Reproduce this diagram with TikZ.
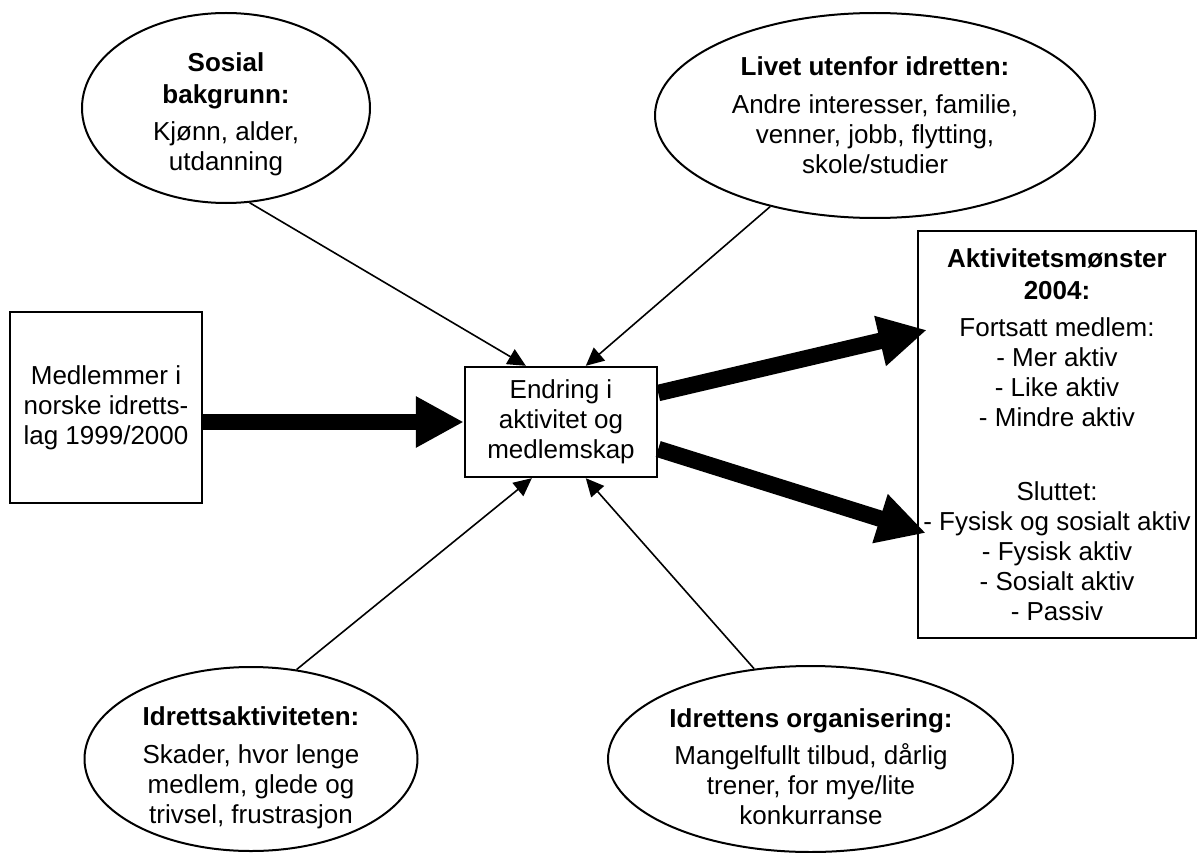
\documentclass[tikz,border=0pt]{standalone}
\usepackage{fontspec}
\setmainfont{Liberation Sans}
\usetikzlibrary{shapes.geometric,arrows.meta,calc}
\begin{document}
\begin{tikzpicture}[x=1pt,y=-1pt,
  font=\fontsize{26}{30}\selectfont,
  oval/.style={ellipse, draw, line width=2pt, inner sep=0pt},
  boxnode/.style={draw, line width=2.4pt, inner sep=0pt, align=center},
  txt/.style={align=center, inner sep=0pt},
  conn/.style={line width=1.6pt, -{Triangle[length=18pt,width=17pt]}},
  flow/.style={line width=16.5pt, -{Triangle[length=48pt,width=48pt]}}
]
\useasboundingbox (0,0) rectangle (1198,853);

% ellipses
\node[oval, minimum width=288pt, minimum height=190pt] (e1) at (226,108) {};
\node[txt] (e1t) at (226,114.5) {\textbf{Sosial}\\[2pt]\textbf{bakgrunn:}\\[7pt]Kjønn, alder,\\utdanning};

\node[oval, minimum width=440pt, minimum height=205pt] (e2) at (875,115.5) {};
\node[txt] (e2t) at (875,115.5) {\textbf{Livet utenfor idretten:}\\[8pt]Andre interesser, familie,\\venner, jobb, flytting,\\skole/studier};

\node[oval, minimum width=333pt, minimum height=184pt] (e3) at (251,759) {};
\node[txt] (e3t) at (251,767.5) {\textbf{Idrettsaktiviteten:}\\[8pt]Skader, hvor lenge\\medlem, glede og\\trivsel, frustrasjon};

\node[oval, minimum width=405pt, minimum height=186pt] (e4) at (810.5,759) {};
\node[txt] (e4t) at (811,767) {\textbf{Idrettens organisering:}\\[7pt]Mangelfullt tilbud, dårlig\\trener, for mye/lite\\konkurranse};

% boxes
\node[boxnode, minimum width=192pt, minimum height=191pt] (lb) at (106,407.5) {Medlemmer i\\norske idretts-\\lag 1999/2000};
\node[boxnode, minimum width=192pt, minimum height=110pt] (cb) at (561,422) {Endring i\\aktivitet og\\medlemskap};
\node[boxnode, minimum width=278pt, minimum height=407pt] (rb) at (1057,434.5) {\textbf{Aktivitetsmønster}\\[2pt]\textbf{2004:}\\[7pt]Fortsatt medlem:\\- Mer aktiv\\- Like aktiv\\- Mindre aktiv\\[44pt]Sluttet:\\- Fysisk og sosialt aktiv\\- Fysisk aktiv\\- Sosialt aktiv\\- Passiv};

% thin connectors
\draw[conn] (e1.-76) -- ($(cb.north west)+(62,0)$);
\draw[conn] (e2.221.5) -- ($(cb.north west)+(122,0)$);
\draw[conn] (e3.63.4) -- ($(cb.south west)+(68,0)$);
\draw[conn] (e4.122) -- ($(cb.south west)+(122,0)$);

% thick arrows
\draw[flow] (lb.east |- cb.west) -- (cb.west);
\draw[flow] ($(cb.east)+(0,-29)$) -- ($(rb.west)+(10,-104.5)$);
\draw[flow] ($(cb.east)+(0,27)$) -- ($(rb.west)+(9,98.5)$);
\end{tikzpicture}
\end{document}
